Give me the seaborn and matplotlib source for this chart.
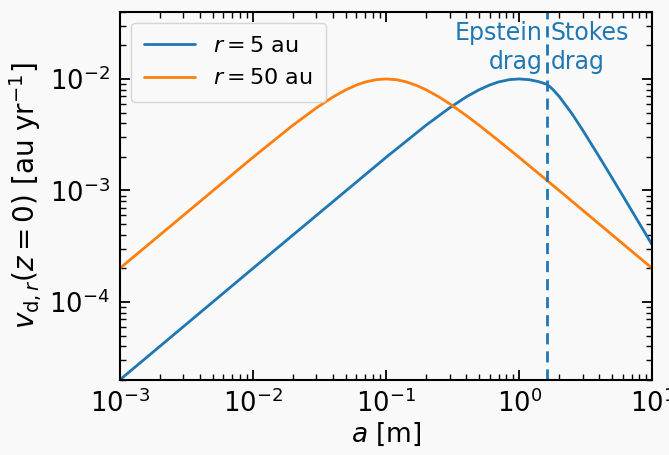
import numpy as np
import pandas as pd
import matplotlib
matplotlib.use("Agg")
import matplotlib.pyplot as plt
import seaborn as sns

# grain size [m] and radial drift velocity [au/yr]
a_5au = [1e-3, 1e-2, 0.1, 0.2, 0.3, 0.4, 0.5, 0.6, 0.7, 0.85, 1.0, 1.2, 1.4,
         1.62, 1.7, 1.8, 2.0, 2.5, 3.0, 4.0, 5.0, 6.0, 8.0, 10.0]
v_5au = [2.0e-5, 2.0e-4, 1.98e-3, 3.85e-3, 5.50e-3, 6.90e-3, 8.0e-3, 8.82e-3,
         9.40e-3, 9.87e-3, 1.0e-2, 9.84e-3, 9.46e-3, 8.94e-3, 8.53e-3, 8.0e-3,
         6.96e-3, 4.86e-3, 3.48e-3, 2.0e-3, 1.29e-3, 8.99e-4, 5.06e-4, 3.24e-4]

a_50au = [1e-3, 1e-2, 0.02, 0.03, 0.04, 0.05, 0.06, 0.07, 0.085, 0.1, 0.12,
          0.14, 0.17, 0.2, 0.25, 0.3, 0.4, 0.5, 0.7, 1.0, 2.0, 10.0]
v_50au = [2.0e-4, 1.98e-3, 3.85e-3, 5.50e-3, 6.90e-3, 8.0e-3, 8.82e-3, 9.40e-3,
          9.87e-3, 1.0e-2, 9.84e-3, 9.46e-3, 8.74e-3, 8.0e-3, 6.90e-3, 6.0e-3,
          4.71e-3, 3.85e-3, 2.8e-3, 1.98e-3, 9.98e-4, 2.0e-4]

series_labels = [r"$r = 5$ au", r"$r = 50$ au"]
a_transition = 1.62  # Epstein / Stokes boundary for r = 5 au

df = pd.concat([
    pd.DataFrame({"a": a_5au, "v": v_5au, "series": series_labels[0]}),
    pd.DataFrame({"a": a_50au, "v": v_50au, "series": series_labels[1]}),
])

sns.set_style("ticks")
plt.rcParams.update({
    "font.family": ["DejaVu Sans"],
    "text.color": "black", "axes.labelcolor": "black",
    "xtick.direction": "in", "ytick.direction": "in",
    "xtick.top": True, "ytick.right": True,
    "xtick.major.size": 7, "ytick.major.size": 7,
    "xtick.minor.size": 4, "ytick.minor.size": 4,
    "xtick.major.width": 1.3, "ytick.major.width": 1.3,
    "xtick.minor.width": 1.0, "ytick.minor.width": 1.0,
    "axes.linewidth": 1.5,
    "axes.edgecolor": "black",
    "xtick.color": "black", "ytick.color": "black",
})

bg = "#f9f9f9"
fig = plt.figure(figsize=(6.69, 4.55), dpi=100, facecolor=bg)
ax = fig.add_axes([0.179, 0.165, 0.796, 0.809])
ax.set_facecolor(bg)

palette = ["#1f77b4", "#ff7f0e"]
sns.lineplot(data=df, x="a", y="v", hue="series", palette=palette,
             linewidth=2, ax=ax, sort=False, estimator=None)

ax.set_xscale("log")
ax.set_yscale("log")
ax.set_xlim(1e-3, 10)
ax.set_ylim(2e-5, 4e-2)

ax.axvline(a_transition, color="#1f77b4", ls="--", lw=2, dashes=(4, 2.5))
ax.text(a_transition / 1.08, 3.3e-2, "Epstein\ndrag", color="#1f77b4",
        ha="right", va="top", fontsize=17, linespacing=1.25)
ax.text(a_transition * 1.07, 3.3e-2, "Stokes\ndrag", color="#1f77b4",
        ha="left", va="top", fontsize=17, linespacing=1.25)

ax.set_xlabel(r"$a$ [m]", fontsize=19, labelpad=2)
ax.set_ylabel(r"$v_{\mathrm{d},r}(z=0)$ [au yr$^{-1}$]", fontsize=20, labelpad=4)
ax.tick_params(axis="both", which="major", labelsize=18.5, pad=7)

leg = ax.legend(loc="upper left", fontsize=16, frameon=True, title=None,
                handlelength=2.3, labelspacing=0.55, borderpad=0.6)
leg.get_frame().set_facecolor(bg)

fig.savefig("out.png", dpi=100, facecolor=bg)
